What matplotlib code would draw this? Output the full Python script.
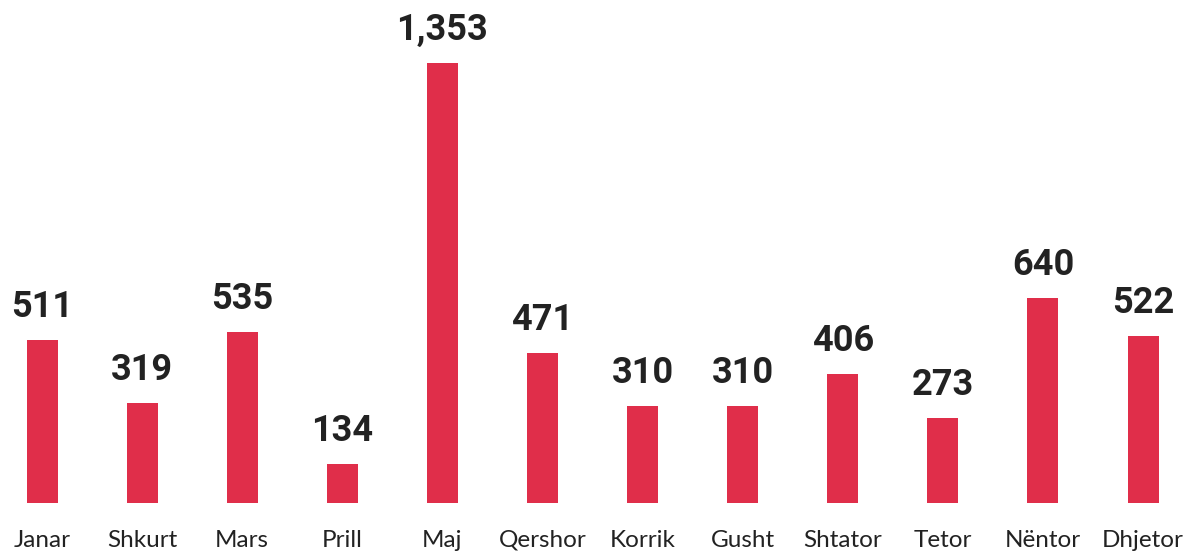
import matplotlib.pyplot as plt

months = ["Janar", "Shkurt", "Mars", "Prill", "Maj", "Qershor", "Korrik",
          "Gusht", "Shtator", "Tetor", "Nëntor", "Dhjetor"]
values = [511, 319, 535, 134, 1353, 471, 310, 310, 406, 273, 640, 522]

BAR_COLOR = "#E02E4A"
TEXT_COLOR = "#222222"

W, H, DPI = 1196, 552, 100
fig = plt.figure(figsize=(W / DPI, H / DPI), dpi=DPI)

# axes covers the plot area above the category labels
base_px = 503   # pixel row where bars visibly end (from top)
zero_px = 508   # pixel row of value 0
scale = max(values) / (zero_px - 63)  # value per pixel
ax = fig.add_axes([0, (H - base_px) / H, 1, base_px / H])

step = 100.1
ax.set_xlim(-42 / step, (W - 42) / step)
ax.set_ylim((zero_px - base_px) * scale, zero_px * scale)

x = list(range(len(months)))
ax.bar(x, values, width=31 / step, color=BAR_COLOR)

px2pt = 72 / DPI
for i, v in enumerate(values):
    ax.annotate(f"{v:,}", xy=(i, v), xytext=(0, 23 * px2pt),
                textcoords="offset points", ha="center", va="baseline",
                fontsize=26, fontweight="bold", color=TEXT_COLOR,
                family="Roboto")
    ax.annotate(months[i], xy=(i, 0), xycoords=("data", "axes fraction"),
                xytext=(0, -44 * px2pt), textcoords="offset points",
                ha="center", va="baseline", fontsize=17.5,
                color=TEXT_COLOR, family="Lato", annotation_clip=False)

ax.axis("off")
fig.savefig("out.png", dpi=DPI)
